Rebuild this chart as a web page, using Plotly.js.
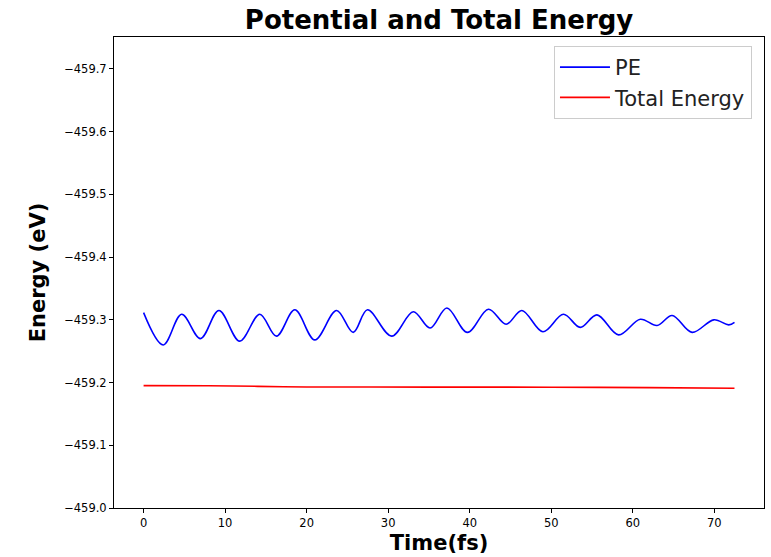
<!DOCTYPE html>
<html>
<head>
<meta charset="utf-8">
<script src="https://cdn.plot.ly/plotly-3.0.1.min.js"></script>
<style>html,body{margin:0;padding:0;background:#fff;}#chart{width:771px;height:557px;}</style>
</head>
<body>
<div id="chart"></div>
<script>
// PE extrema (time in fs, energy in eV)
const peTime = [0, 2.41, 4.67, 6.97, 9.24, 11.79, 14.25, 16.3, 18.55, 21.0, 23.67, 25.71, 27.46, 30.43, 33.08, 35.14,
  37.2, 39.72, 42.3, 44.47, 46.4, 48.98, 51.5, 53.56, 55.61, 58.26, 60.93, 62.98, 64.83, 67.28, 69.94, 71.78, 72.48];
const peEnergy = [-459.3115, -459.260, -459.309, -459.270, -459.315, -459.266, -459.309, -459.274, -459.316, -459.268,
  -459.315, -459.280, -459.316, -459.274, -459.313, -459.287, -459.319, -459.280, -459.317, -459.293, -459.315,
  -459.281, -459.309, -459.288, -459.308, -459.276, -459.301, -459.291, -459.307, -459.280, -459.300, -459.292, -459.296];

const teTime = [0, 8, 14, 20, 35, 50, 62, 72.48];
const teEnergy = [-459.1952, -459.1950, -459.1940, -459.1930, -459.1928, -459.1926, -459.1920, -459.1910];

const yTickVals = [-459.0, -459.1, -459.2, -459.3, -459.4, -459.5, -459.6, -459.7];
const yTickText = ["\u2212459.0", "\u2212459.1", "\u2212459.2", "\u2212459.3", "\u2212459.4", "\u2212459.5", "\u2212459.6", "\u2212459.7"];
const xTickVals = [0, 10, 20, 30, 40, 50, 60, 70];

const font = "DejaVu Sans, sans-serif";

const traces = [
  {x: peTime, y: peEnergy, name: "PE", type: "scatter", mode: "lines",
   line: {color: "#0000ff", width: 1.6, shape: "spline", smoothing: 1}},
  {x: teTime, y: teEnergy, name: "Total Energy", type: "scatter", mode: "lines",
   line: {color: "#ff0000", width: 1.6, shape: "spline", smoothing: 0.6}}
];

const layout = {
  width: 771, height: 557,
  margin: {l: 114, r: 7, t: 37, b: 49},
  paper_bgcolor: "#fff", plot_bgcolor: "#fff",
  font: {family: font, size: 11.5, color: "#000"},
  title: {text: "<b>Potential and Total Energy</b>", font: {family: font, size: 26, color: "#000"},
          x: 0.5695, xanchor: "center", y: 0.965, yanchor: "middle"},
  showlegend: true,
  legend: {x: 0.9815, xanchor: "right", y: 0.981, yanchor: "top", itemwidth: 50,
           bgcolor: "rgba(255,255,255,0.8)", bordercolor: "#cccccc", borderwidth: 1,
           font: {family: font, size: 21, color: "#222"}, tracegroupgap: 0},
  xaxis: {range: [-3.63, 76.1], tickvals: xTickVals, ticks: "outside", ticklen: 4, tickcolor: "#000",
          showline: true, mirror: true, linecolor: "#000", linewidth: 1, showgrid: false, zeroline: false,
          tickfont: {family: font, size: 11.5, color: "#000"},
          title: {text: "<b>Time(fs)</b>", font: {family: font, size: 21, color: "#000"}, standoff: 6}},
  yaxis: {range: [-459.0, -459.751], tickvals: yTickVals, ticktext: yTickText, ticks: "outside", ticklen: 4,
          tickcolor: "#000", showline: true, mirror: true, linecolor: "#000", linewidth: 1, showgrid: false,
          zeroline: false, tickfont: {family: font, size: 11.5, color: "#000"},
          title: {text: "<b>Energy (eV)</b>", font: {family: font, size: 21, color: "#000"}, standoff: 12}}
};

Plotly.newPlot("chart", traces, layout, {displayModeBar: false, staticPlot: true});
</script>
</body>
</html>
